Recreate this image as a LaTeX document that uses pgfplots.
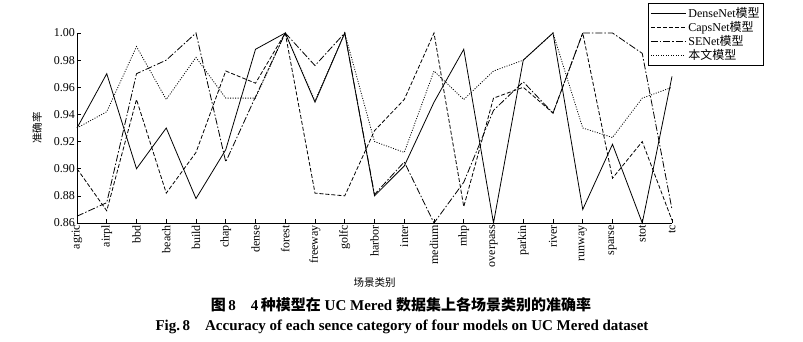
\documentclass[border=0pt]{standalone}
\usepackage{fontspec}
\setmainfont{Liberation Serif}
\newfontfamily\cjk{Noto Sans CJK SC}
\usepackage{pgfplots}
\pgfplotsset{compat=1.18}
\begin{document}
\begin{tikzpicture}
\path[use as bounding box] (-77pt,-119pt) rectangle (726pt,223pt);
\begin{axis}[
  at={(0pt,0pt)}, anchor=south west,
  scale only axis, width=595pt, height=190pt,
  xmin=0, xmax=20, ymin=0.86, ymax=1.0,
  axis x line*=bottom, axis y line*=left, axis line style={-, line width=0.7pt},
  tick style={line width=0.6pt, black}, major tick length=4pt, tick align=inside,
  xtick={0,...,20},
  xticklabels={agric,airpl,bbd,beach,build,chap,dense,forest,freeway,golfc,harbor,inter,medium,mhp,overpass,parkin,river,runway,sparse,stot,tc},
  x tick label style={rotate=90, anchor=east, font=\fontsize{12}{14}\selectfont, inner sep=2pt},
  ytick={0.86,0.88,0.90,0.92,0.94,0.96,0.98,1.00},
  y tick label style={font=\fontsize{12}{14}\selectfont, inner sep=2pt,
    /pgf/number format/fixed, /pgf/number format/fixed zerofill,
    /pgf/number format/precision=2, /pgf/number format/assume math mode=true},
  xlabel={\cjk 场景类别},
  xlabel style={at={(axis description cs:0.5,0)}, anchor=center, yshift=-60pt, font=\fontsize{10.5}{12}\selectfont},
  ylabel={\cjk 准确率},
  ylabel style={at={(axis description cs:0,0.5)}, anchor=center, yshift=40pt, font=\fontsize{10.5}{12}\selectfont},
  legend style={at={(axis description cs:0.96,1.158)}, anchor=north west, draw=black, line width=0.7pt,
    font=\fontsize{12}{13}\selectfont, inner sep=2pt, row sep=-1.5pt, fill=white},
  legend cell align=left,
  legend image code/.code={\draw[#1, line width=0.8pt] (0pt,0pt) -- (35pt,0pt);},
  every axis plot/.append style={black, line width=0.8pt, mark=none},
  clip=false,
]
\addplot[solid] coordinates {
(0,0.930) (1,0.970) (2,0.900) (3,0.930) (4,0.878) (5,0.914) (6,0.988) (7,1.000) (8,0.949) (9,1.000)
(10,0.880) (11,0.902) (12,0.949) (13,0.988) (14,0.860) (15,0.980) (16,1.000) (17,0.870) (18,0.918) (19,0.860) (20,0.968)};
\addlegendentry{DenseNet{\cjk 模型}}
\addplot[dash pattern=on 4pt off 2pt] coordinates {
(0,0.900) (1,0.869) (2,0.951) (3,0.882) (4,0.912) (5,0.972) (6,0.963) (7,1.000) (8,0.882) (9,0.880)
(10,0.928) (11,0.951) (12,1.000) (13,0.872) (14,0.952) (15,0.960) (16,0.941) (17,1.000) (18,0.893) (19,0.920) (20,0.862)};
\addlegendentry{CapsNet{\cjk 模型}}
\addplot[dash pattern=on 7pt off 2pt on 1.5pt off 2pt] coordinates {
(0,0.865) (1,0.875) (2,0.970) (3,0.980) (4,1.000) (5,0.905) (6,0.953) (7,1.000) (8,0.976) (9,1.000)
(10,0.881) (11,0.905) (12,0.860) (13,0.890) (14,0.943) (15,0.964) (16,0.941) (17,1.000) (18,1.000) (19,0.985) (20,0.870)};
\addlegendentry{SENet{\cjk 模型}}
\addplot[dash pattern=on 1pt off 1.5pt] coordinates {
(0,0.930) (1,0.942) (2,0.990) (3,0.951) (4,0.982) (5,0.952) (6,0.952) (7,1.000) (8,0.950) (9,1.000)
(10,0.920) (11,0.912) (12,0.972) (13,0.951) (14,0.972) (15,0.980) (16,1.000) (17,0.930) (18,0.923) (19,0.952) (20,0.960)};
\addlegendentry{{\cjk 本文模型}}
\end{axis}
\node[anchor=center, font=\bfseries\fontsize{15}{17}\selectfont] at (324pt,-82pt)
  {{\cjk 图}\,8\quad 4\,{\cjk 种模型在} UC Mered {\cjk 数据集上各场景类别的准确率}};
\node[anchor=center, font=\bfseries\fontsize{15}{17}\selectfont] at (325pt,-104pt)
  {Fig.\,8\quad Accuracy of each sence category of four models on UC Mered dataset};
\end{tikzpicture}
\end{document}
